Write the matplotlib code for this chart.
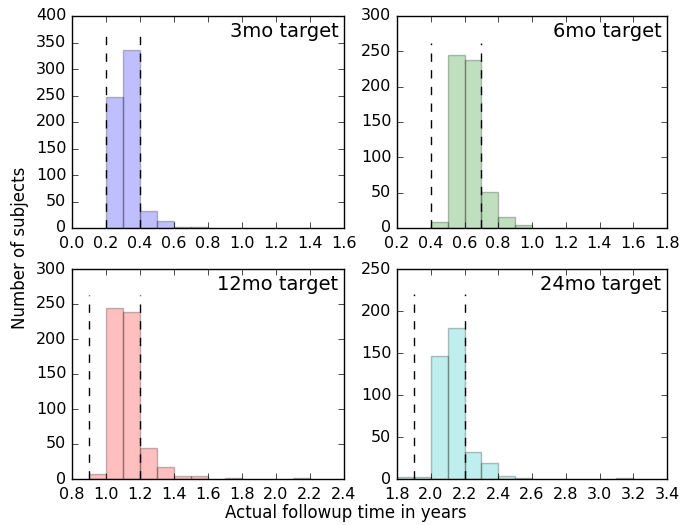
import numpy as np
import matplotlib
matplotlib.use("Agg")
import matplotlib.pyplot as plt

plt.style.use("classic")

labels = ["3mo target", "6mo target", "12mo target", "24mo target"]
colors = ["b", "g", "r", "c"]

bins_3 = [0.2, 0.3, 0.4, 0.5, 0.6, 0.7]
counts_3 = [247, 335, 33, 13, 2, 1]

bins_6 = [0.4, 0.5, 0.6, 0.7, 0.8, 0.9]
counts_6 = [8, 245, 238, 51, 16, 4]

bins_12 = [0.9, 1.0, 1.1, 1.2, 1.3, 1.4, 1.5, 1.7, 2.1]
counts_12 = [7, 244, 239, 45, 17, 4, 5, 1, 1]

bins_24 = [1.8, 1.9, 2.0, 2.1, 2.2, 2.3, 2.4, 2.5, 3.1]
counts_24 = [2, 2, 147, 180, 32, 19, 3, 1, 1]

# target window (dashed lines) and how tall they were drawn
windows = [(0.2, 0.4), (0.4, 0.7), (0.9, 1.2), (1.9, 2.2)]
line_tops = [370, 262, 263, 220]

xlims = [(0.0, 1.6), (0.2, 1.8), (0.8, 2.4), (1.8, 3.4)]
ylims = [400, 300, 300, 250]

all_bins = [bins_3, bins_6, bins_12, bins_24]
all_counts = [counts_3, counts_6, counts_12, counts_24]

W, H = 681, 525
fig = plt.figure(figsize=(W / 100, H / 100), dpi=100, facecolor="white")

# axes boxes in pixels: left, top, right, bottom
boxes = [(72, 16, 344, 228), (397, 16, 667, 228),
         (72, 269, 344, 479), (397, 269, 667, 479)]

for i in range(4):
    l, t, r, b = boxes[i]
    ax = fig.add_axes([l / W, 1 - b / H, (r - l) / W, (b - t) / H])
    ax.bar(all_bins[i], all_counts[i], width=0.1, align="edge",
           color=colors[i], alpha=0.25, edgecolor="k", linewidth=1.0)
    for x in windows[i]:
        ax.plot([x, x], [0, line_tops[i]], "k--", linewidth=1.0)
    ax.set_xlim(*xlims[i])
    ax.set_ylim(0, ylims[i])
    ax.tick_params(labelsize=11.5)
    ax.tick_params(axis="x", pad=6)
    ax.text(0.98, 0.97, labels[i], transform=ax.transAxes,
            ha="right", va="top", fontsize=14)

fig.text(20 / W, 1 - 248 / H, "Number of subjects", rotation=90,
         ha="center", va="center", fontsize=12)
fig.text(346 / W, 1 - 513 / H, "Actual followup time in years",
         ha="center", va="center", fontsize=12)

fig.savefig("out.png", dpi=100, facecolor="white")
